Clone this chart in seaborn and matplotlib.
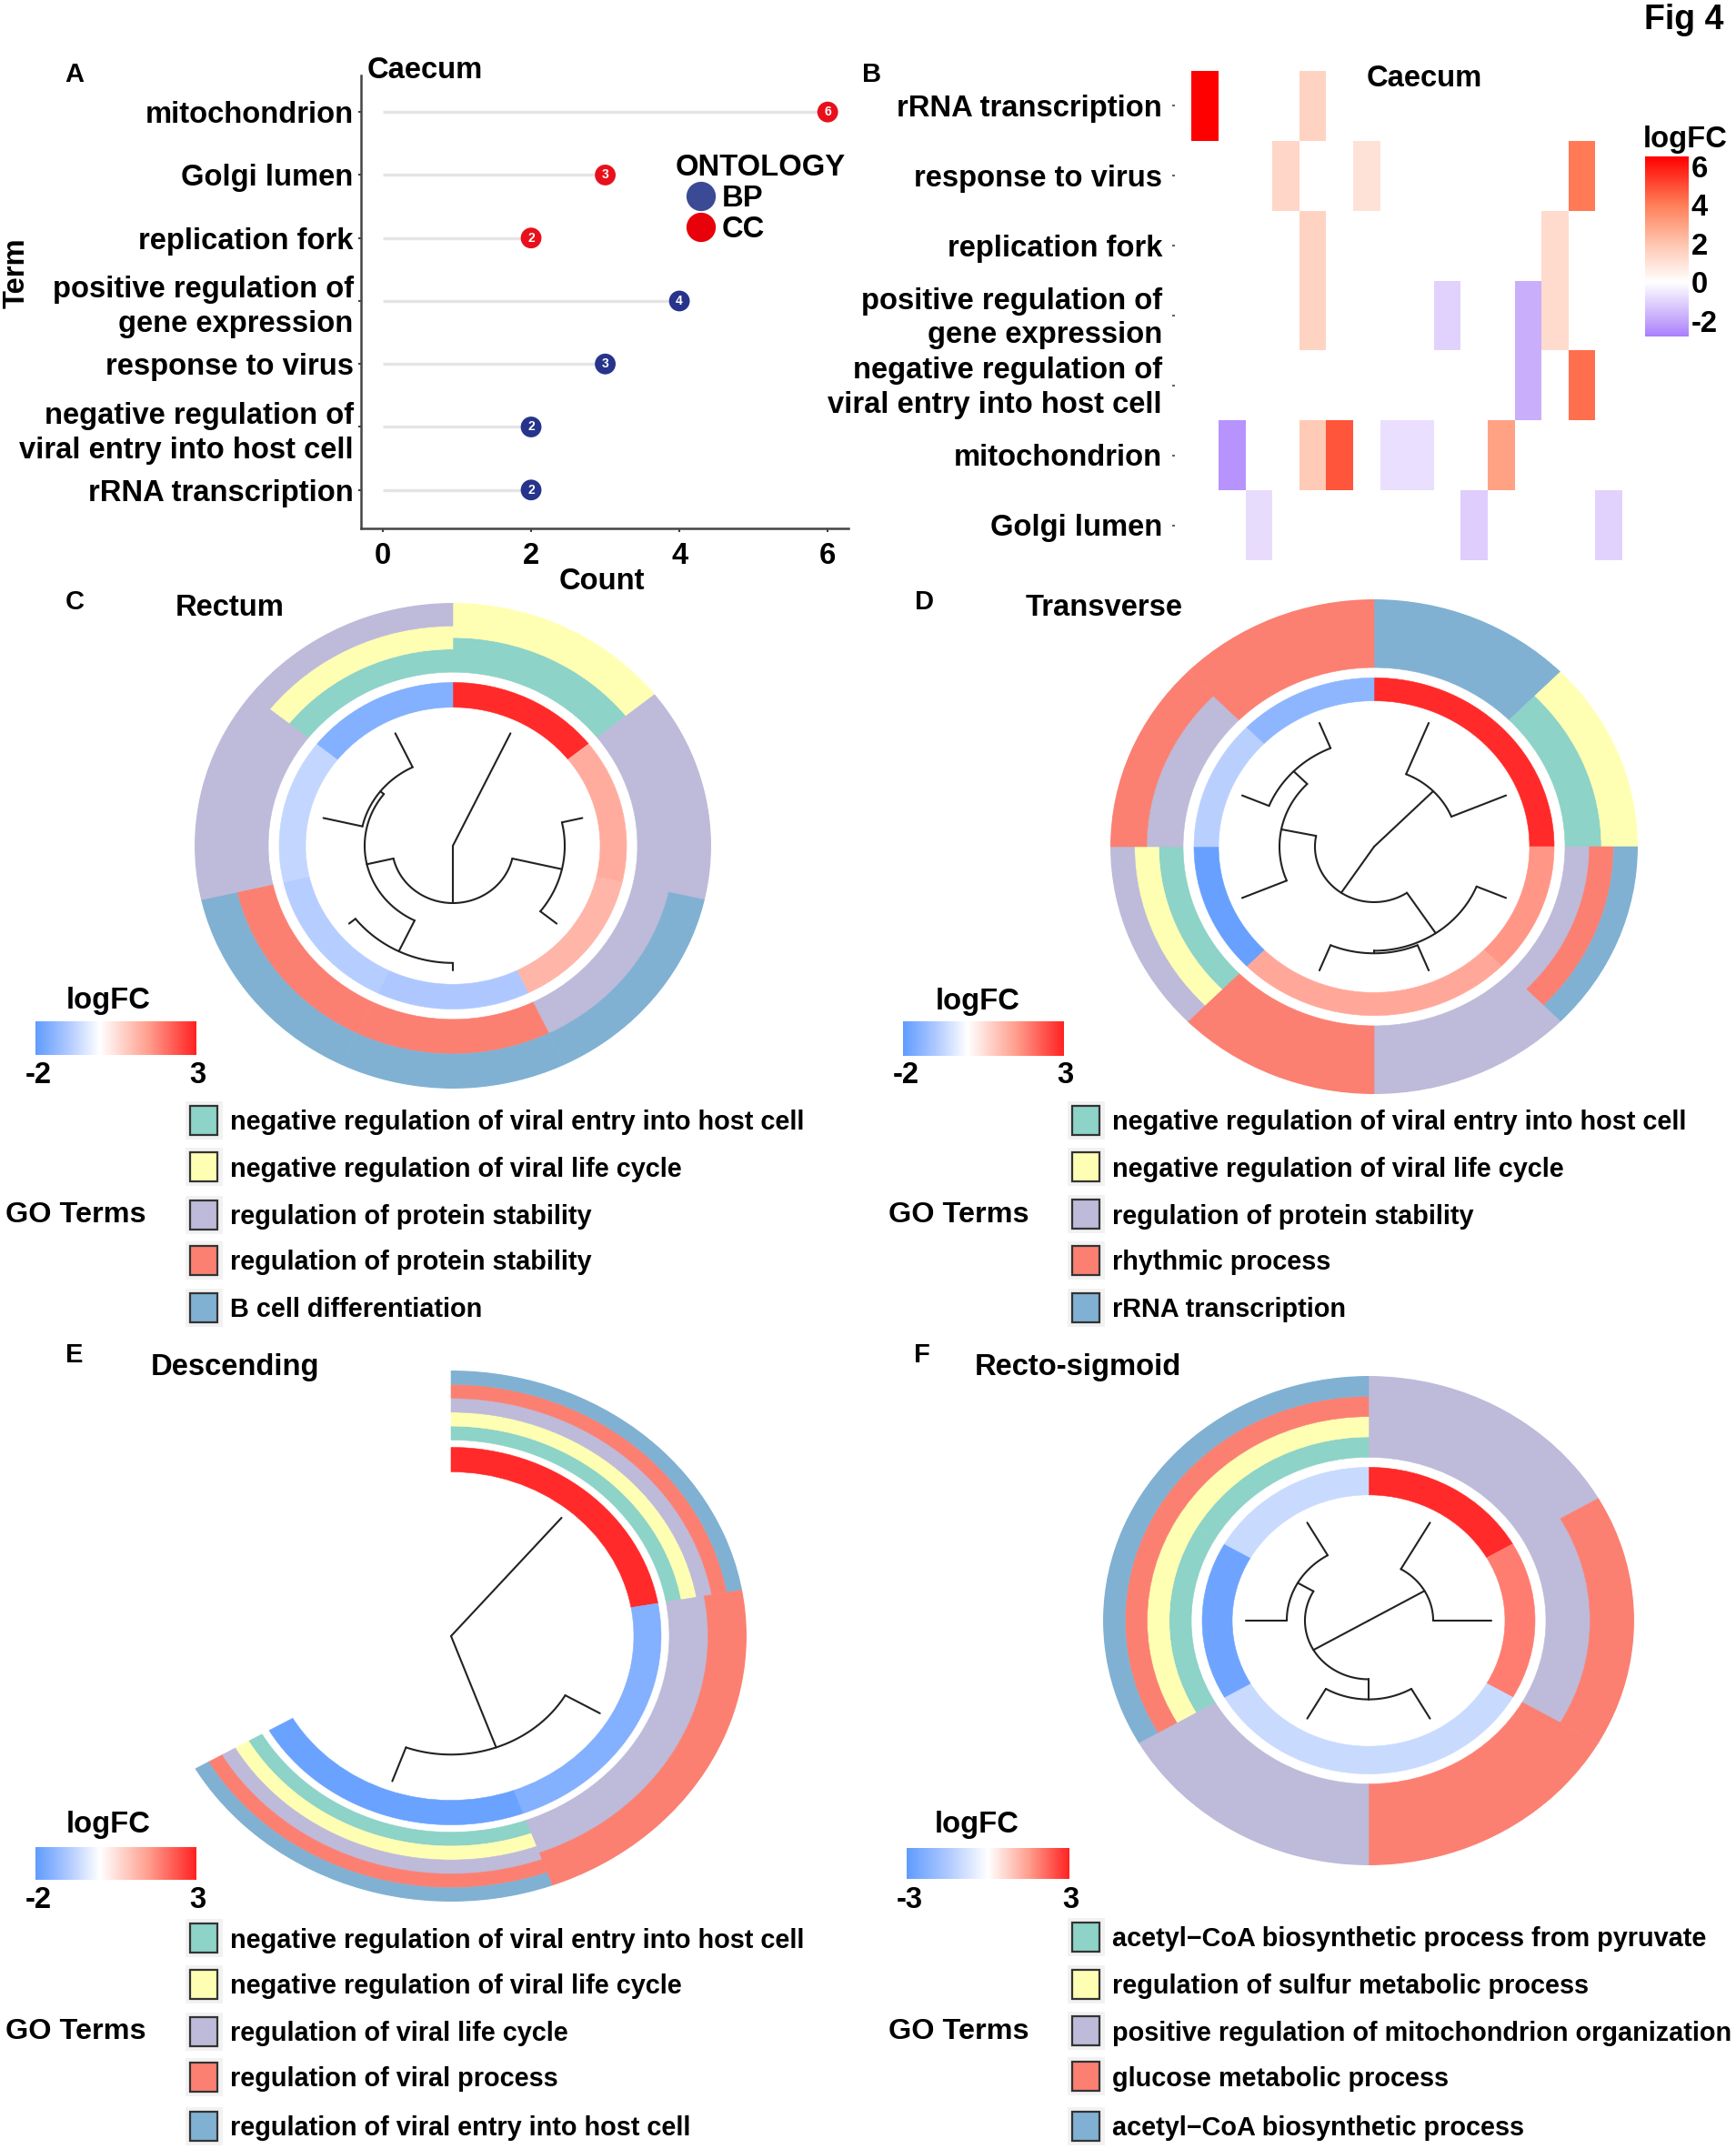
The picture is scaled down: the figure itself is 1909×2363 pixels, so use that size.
import numpy as np
import pandas as pd
import matplotlib
matplotlib.use("Agg")
import matplotlib.pyplot as plt
from matplotlib.colors import LinearSegmentedColormap, Normalize
from matplotlib.cm import ScalarMappable
from matplotlib.patches import Rectangle
from matplotlib.transforms import ScaledTranslation
import seaborn as sns

# panel A
lollipop_terms = ["mitochondrion", "Golgi lumen", "replication fork",
                  "positive regulation of\ngene expression", "response to virus",
                  "negative regulation of\nviral entry into host cell", "rRNA transcription"]
lollipop_counts = [6, 3, 2, 4, 3, 2, 2]
lollipop_ontology = ["CC", "CC", "CC", "BP", "BP", "BP", "BP"]

# panel B
heat_terms = ["rRNA transcription", "response to virus", "replication fork",
              "positive regulation of\ngene expression",
              "negative regulation of\nviral entry into host cell",
              "mitochondrion", "Golgi lumen"]
heat_row = [0, 0, 1, 1, 1, 2, 2, 3, 3, 3, 3, 4, 4, 5, 5, 5, 5, 5, 5, 6, 6, 6]
heat_col = [0, 4, 3, 6, 14, 4, 13, 4, 9, 12, 13, 12, 14, 1, 4, 5, 7, 8, 11, 2, 10, 15]
heat_val = [6.5, 1.5, 1.4, 1.0, 4.1, 1.5, 1.2, 1.5, -1.0, -1.8, 1.2, -1.8, 4.3,
            -2.4, 1.8, 4.8, -0.7, -0.7, 3.0, -0.8, -1.1, -1.0]

# panels C-F, genes run clockwise from the top
# term index: 0 teal, 1 yellow, 2 purple, 3 salmon, 4 blue
rectum_fc = [2.9, 1.3, 1.15, -1.0, -0.9, -0.75, -1.55]
rectum_sets = [[0, 1], [2], [2, 4], [3, 4], [3, 4], [2], [0, 1, 2]]
rectum_tree = (0, [0, (67, [(123, [1, 2]),
                            (97, [(137, [3, 4]), (102, [5, 6])])])])
rectum_legend = ["negative regulation of viral entry into host cell",
                 "negative regulation of viral life cycle",
                 "regulation of protein stability",
                 "regulation of protein stability",
                 "B cell differentiation"]

transverse_fc = [2.9, 2.9, 1.6, 1.35, 1.35, -1.9, -0.85, -1.4]
transverse_sets = [[4], [0, 1], [2, 3, 4], [2], [3], [0, 1, 2], [2, 3], [3]]
transverse_tree = (0, [(92, [0, 1]),
                       (65, [(122, [2, (125, [3, 4])]),
                             (104, [5, (125, [6, 7])])])])
transverse_legend = ["negative regulation of viral entry into host cell",
                     "negative regulation of viral life cycle",
                     "regulation of protein stability",
                     "rhythmic process",
                     "rRNA transcription"]

descending_fc = [2.9, -1.55, -1.85]
descending_sets = [[0, 1, 2, 3, 4], [2, 3], [0, 1, 2, 3, 4]]
descending_tree = (0, [0, (145, [1, 2])])
descending_legend = ["negative regulation of viral entry into host cell",
                     "negative regulation of viral life cycle",
                     "regulation of viral life cycle",
                     "regulation of viral process",
                     "regulation of viral entry into host cell"]

sigmoid_fc = [2.9, 1.9, -1.0, -1.0, -2.7, -1.0]
sigmoid_sets = [[2], [2, 3], [3], [2], [0, 1, 3, 4], [0, 1, 3, 4]]
sigmoid_tree = (0, [(71, [0, 1]), (70, [(94, [2, 3]), (90, [4, 5])])])
sigmoid_legend = ["acetyl\u2212CoA biosynthetic process from pyruvate",
                  "regulation of sulfur metabolic process",
                  "positive regulation of mitochondrion organization",
                  "glucose metabolic process",
                  "acetyl\u2212CoA biosynthetic process"]

W, H = 1909, 2363
sns.set_theme(style="white")
plt.rcParams["font.family"] = ["Liberation Sans", "DejaVu Sans"]
plt.rcParams["font.weight"] = "bold"
plt.rcParams["axes.unicode_minus"] = False
plt.rcParams["text.color"] = "black"
plt.rcParams["xtick.labelcolor"] = "black"
plt.rcParams["ytick.labelcolor"] = "black"
set3 = sns.color_palette("Set3", 5)
text_size = 23.6
legend_size = 20.8

fig = plt.figure(figsize=(W / 100, H / 100), dpi=100)


def px_axes(left, top, right, bottom, **kw):
    return fig.add_axes([left / W, 1 - bottom / H, (right - left) / W, (bottom - top) / H], **kw)


page = px_axes(0, 0, W, H)
page.set_xlim(0, W)
page.set_ylim(H, 0)
page.axis("off")
page.set_zorder(10)


def label(x, y, s, size=text_size, ha="center", **kw):
    page.text(x, y + 2.5, s, fontsize=size, ha=ha, va="center", color="black", **kw)


# A
ax = px_axes(397, 83, 933, 581)
df = pd.DataFrame({"y": range(len(lollipop_terms)), "count": lollipop_counts, "ont": lollipop_ontology})
ax.hlines(df["y"], 0, df["count"], color="#e4e4e4", lw=2.4, zorder=1)
sns.scatterplot(data=df, x="count", y="y", hue="ont", palette={"BP": "#27348b", "CC": "#e8101c"},
                s=270, linewidth=0, legend=False, ax=ax, zorder=2)
for i, c in enumerate(lollipop_counts):
    ax.text(c, i, str(c), color="white", fontsize=10, ha="center", va="center", zorder=3)
ax.set_xlim(-0.294, 6.28)
ax.set_ylim(6.61, -0.58)
ax.set_xticks([0, 2, 4, 6])
ax.set_yticks(range(len(lollipop_terms)))
ax.set_yticklabels(lollipop_terms, fontsize=text_size, linespacing=1.28, ha="right", multialignment="right")
ax.tick_params(axis="y", length=2, width=1.5, left=True, pad=4, color="#444444")
ax.tick_params(axis="x", length=3, width=1.5, bottom=True, labelsize=text_size, pad=8, color="#444444")
ax.set_xlabel("")
ax.set_ylabel("")
sns.despine(ax=ax)
for side in ["left", "bottom"]:
    ax.spines[side].set_color("#444444")
    ax.spines[side].set_linewidth(1.8)
label(18, 298, "Term", rotation=90)
label(662, 637, "Count")
label(404, 75, "Caecum", ha="left")
label(836, 182, "ONTOLOGY")
page.scatter([771, 771], [216, 250], s=540, c=["#3b4a94", "#e8000b"], linewidths=0)
label(794, 216, "BP", ha="left")
label(794, 250, "CC", ha="left")

# B
heat_cmap = LinearSegmentedColormap.from_list(
    "fc", [(0, "#a97fff"), (0.8 / 9.3, "#c4a6fb"), (2.8 / 9.3, "#ffffff"), (4.8 / 9.3, "#ffc4ae"),
           (6.8 / 9.3, "#ff7f58"), (1, "#ff0000")])
heat = (pd.DataFrame({"row": heat_row, "col": heat_col, "val": heat_val})
        .pivot(index="row", columns="col", values="val")
        .reindex(index=range(7), columns=range(16)))
ax = px_axes(1292, 78, 1784, 616)
cax = px_axes(1809, 172, 1857, 370)
sns.heatmap(heat, cmap=heat_cmap, vmin=-2.8, vmax=6.5, ax=ax, cbar_ax=cax,
            xticklabels=False, yticklabels=heat_terms)
ax.set_xlim(-0.62, 16)
ax.set_xlabel("")
ax.set_ylabel("")
ax.tick_params(axis="y", left=True, length=2, width=1.5, pad=8, rotation=0, color="#666666")
shift = ScaledTranslation(0, -3 / 100, fig.dpi_scale_trans)
for t in ax.get_yticklabels():
    t.set_fontsize(text_size)
    t.set_linespacing(1.28)
    t.set_multialignment("right")
    t.set_transform(t.get_transform() + shift)
cax.set_yticks([-2, 0, 2, 4, 6])
cax.tick_params(axis="y", direction="in", length=10, width=1.5, color="white", right=True, left=True,
                labelleft=False, labelright=True, labelsize=text_size, pad=2)
label(1853, 151, "logFC")
label(1566, 84, "Caecum")
label(1852, 19, "Fig 4", size=27)
label(82, 80, "A", size=21)
label(959, 80, "B", size=21)


def draw_tree(ax, node, leaf_r, step):
    if not isinstance(node, tuple):
        return (node + 0.5) * step, leaf_r
    r, kids = node
    angles = []
    for kid in kids:
        a, kid_r = draw_tree(ax, kid, leaf_r, step)
        ax.plot([a, a], [r, kid_r], color="#222222", lw=1.5)
        angles.append(a)
    arc = np.linspace(min(angles), max(angles), 80)
    ax.plot(arc, np.full_like(arc, r), color="#222222", lw=1.5)
    return (min(angles) + max(angles)) / 2, r


def draw_ring(cx, cy, rx, ry, fc, sets, tree, sweep, ring, stack_in, leaf_r, lim):
    ax = px_axes(cx - rx, cy - ry, cx + rx, cy + ry, projection="polar")
    ax.set_aspect("auto")
    ax.set_theta_zero_location("N")
    ax.set_theta_direction(-1)
    ax.set_rlim(0, rx)
    ax.axis("off")
    ax.patch.set_alpha(0)
    step = np.deg2rad(sweep) / len(fc)
    cmap = LinearSegmentedColormap.from_list(
        "ring", [(0, "#5f9cff"), (0.5 * lim[0] / (lim[0] + lim[1]), "#aec8ff"),
                 (lim[0] / (lim[0] + lim[1]), "#ffffff"),
                 ((lim[0] + 1.5) / (lim[0] + lim[1]), "#ff9f8e"), (1, "#ff2222")])
    norm = Normalize(-lim[0], lim[1])
    for i, (v, terms) in enumerate(zip(fc, sets)):
        c = cmap(norm(v))
        ax.bar(i * step, ring[1] - ring[0], width=step, bottom=ring[0], align="edge",
               color=c, edgecolor=c, linewidth=0.4)
        thick = (rx - stack_in) / len(terms)
        for j, t in enumerate(terms):
            ax.bar(i * step, thick, width=step, bottom=stack_in + j * thick, align="edge",
                   color=set3[t], edgecolor=set3[t], linewidth=0.4)
    draw_tree(ax, tree, leaf_r, step)
    ax.set_rlim(0, rx)
    return cmap, norm


def draw_key(cmap, norm, left, right, top, bottom, lo, hi, lab_y, title_x, title_y):
    cax = px_axes(left, top, right, bottom)
    cb = fig.colorbar(ScalarMappable(norm=norm, cmap=cmap), cax=cax, orientation="horizontal")
    cb.outline.set_visible(False)
    cb.set_ticks([])
    label(left + 3, lab_y, lo)
    label(right + 1, lab_y, hi)
    label(title_x, title_y, "logFC")


def draw_legend(names, square_x, text_x, ys, go_x, go_y):
    for y, name, col in zip(ys, names, set3):
        page.add_patch(Rectangle((square_x - 5, y - 21), 41, 42, facecolor="#f2f2f2", edgecolor="none"))
        page.add_patch(Rectangle((square_x, y - 16), 30, 32, facecolor=col, edgecolor="#333333", lw=1.6))
        label(text_x, y, name, size=legend_size, ha="left")
    label(go_x, go_y, "GO Terms", size=23.3, ha="left")


# C
cmap, norm = draw_ring(498, 930, 284, 267, rectum_fc, rectum_sets, rectum_tree, 360,
                       (162, 191), 203, 146, (2, 3))
draw_key(cmap, norm, 39, 216, 1123, 1160, "-2", "3", 1180, 119, 1098)
draw_legend(rectum_legend, 209, 253, [1232, 1283, 1336, 1386, 1438], 6, 1334)
label(82, 659, "C", size=21)
label(253, 666, "Rectum")

# D
cmap, norm = draw_ring(1511, 931, 290, 272, transverse_fc, transverse_sets, transverse_tree, 360,
                       (171, 198), 210, 157, (2, 3))
draw_key(cmap, norm, 993, 1170, 1123, 1161, "-2", "3", 1180, 1075, 1099)
draw_legend(transverse_legend, 1179, 1223, [1232, 1283, 1335, 1386, 1438], 977, 1334)
label(1016, 660, "D", size=21)
label(1214, 666, "Transverse")

# E
cmap, norm = draw_ring(496, 1799, 325, 292, descending_fc, descending_sets, descending_tree, 240,
                       (201, 231), 240, 189, (2, 3))
draw_key(cmap, norm, 39, 216, 2031, 2067, "-2", "3", 2087, 119, 2004)
draw_legend(descending_legend, 209, 253, [2131, 2182, 2234, 2284, 2338], 6, 2232)
label(82, 1487, "E", size=21)
label(258, 1501, "Descending")

# F
cmap, norm = draw_ring(1505, 1782, 292, 269, sigmoid_fc, sigmoid_sets, sigmoid_tree, 360,
                       (150, 183), 195, 135, (3, 3))
draw_key(cmap, norm, 997, 1176, 2032, 2066, "-3", "3", 2087, 1074, 2004)
draw_legend(sigmoid_legend, 1179, 1223, [2130, 2182, 2233, 2283, 2338], 977, 2232)
label(1014, 1487, "F", size=21)
label(1185, 1501, "Recto-sigmoid")

fig.savefig("out.png", dpi=100)
